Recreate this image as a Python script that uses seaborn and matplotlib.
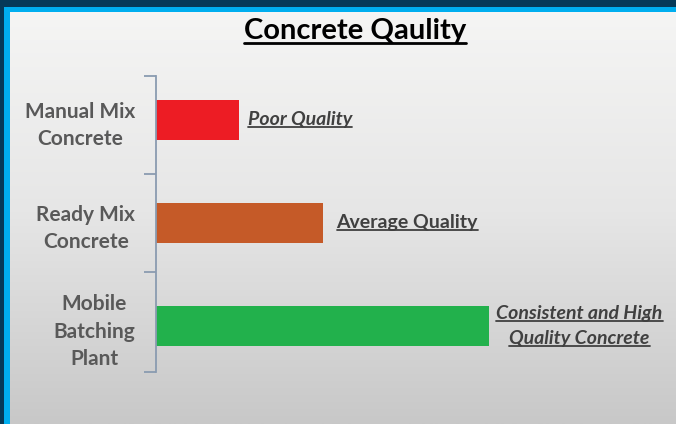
import numpy as np
import pandas as pd
import matplotlib.pyplot as plt
import seaborn as sns
from matplotlib.lines import Line2D
from matplotlib.patches import Rectangle
from matplotlib.colors import LinearSegmentedColormap

# Data
methods = ["Manual Mix\nConcrete", "Ready Mix\nConcrete", "Mobile\nBatching\nPlant"]
quality_score = [1, 2, 4]
quality_labels = ["Poor Quality", "Average Quality", "Consistent and High\nQuality Concrete"]
label_styles = ["italic", "normal", "italic"]
bar_colors = ["#ed1c24", "#c55a28", "#22b14c"]

df = pd.DataFrame({"method": methods, "score": quality_score})

sns.set_theme(style="white")
plt.rcParams["font.family"] = ["Lato", "DejaVu Sans"]

fig = plt.figure(figsize=(6.76, 4.24), dpi=100)
W, H = 676, 424

# background gradient
bg = fig.add_axes([0, 0, 1, 1], zorder=-10)
grad = np.linspace(0, 1, 256).reshape(-1, 1)
bg_cmap = LinearSegmentedColormap.from_list("bg", ["#f6f6f5", "#e6e6e6", "#c8c8c8"])
bg.imshow(grad, aspect="auto", cmap=bg_cmap, extent=[0, 1, 0, 1], origin="upper")
bg.axis("off")

# blue frame on top and left
fig.add_artist(Rectangle((0, 1 - 12 / H), 1, 12 / H, transform=fig.transFigure, color="#00aeef", lw=0))
fig.add_artist(Rectangle((0, 0), 10 / W, 1, transform=fig.transFigure, color="#00aeef", lw=0))
fig.add_artist(Rectangle((0, 1 - 7 / H), 1, 7 / H, transform=fig.transFigure, color="#063a58", lw=0))
fig.add_artist(Rectangle((0, 0), 4 / W, 1, transform=fig.transFigure, color="#063a58", lw=0))

# main axes
ax = fig.add_axes([156 / W, 52 / H, 500 / W, 296 / H])
ax.patch.set_alpha(0)

sns.barplot(data=df, y="method", x="score", hue="method", palette=bar_colors,
            width=0.39, saturation=1, legend=False, orient="h", linewidth=0, ax=ax)

ax.set_xlim(0, 6)
ax.set_ylim(2.447, -0.427)
ax.set_xlabel("")
ax.set_ylabel("")
ax.set_xticks([])

# category boundary ticks like the original
ax.set_yticks([-0.427, 0.524, 1.476, 2.447], minor=True)
ax.tick_params(axis="y", which="minor", left=True, length=9, width=1.3,
               color="#8a9bb0", direction="out")
ax.tick_params(axis="y", which="major", left=False, length=0, pad=15,
               labelsize=15, labelcolor="#595959")
for lbl in ax.get_yticklabels():
    lbl.set_fontweight("bold")
    lbl.set_multialignment("center")
    lbl.set_linespacing(1.45)

for side in ["top", "right", "bottom"]:
    ax.spines[side].set_visible(False)
ax.spines["left"].set_color("#8a9bb0")
ax.spines["left"].set_linewidth(1.3)

# labels next to bars
pads = [6, 10, 5]
bar_texts = []
for cont, lab, st, pad in zip(ax.containers, quality_labels, label_styles, pads):
    t = ax.bar_label(cont, labels=[lab], padding=pad, fontsize=14,
                     fontweight="bold", fontstyle=st, color="#404040")[0]
    t.set_multialignment("center")
    t.set_linespacing(1.55)
    bar_texts.append(t)

title = fig.text(355 / W, 1 - 31 / H, "Concrete Qaulity", ha="center", va="center",
                 fontsize=21, fontweight="bold", color="black")

fig.canvas.draw()
renderer = fig.canvas.get_renderer()


def underline(txt, color, lw, gap):
    bb = txt.get_window_extent(renderer)
    lines = txt.get_text().split("\n")
    n = len(lines)
    cx = (bb.x0 + bb.x1) / 2
    widths, heights = [], []
    for line in lines:
        tmp = fig.text(0, 0, line, fontproperties=txt.get_fontproperties())
        e = tmp.get_window_extent(renderer)
        widths.append(e.width)
        heights.append(e.height)
        tmp.remove()
    step = (bb.height - heights[-1]) / (n - 1) if n > 1 else 0
    for i, w in enumerate(widths):
        y = bb.y0 + (n - 1 - i) * step + gap
        fig.add_artist(Line2D([(cx - w / 2) / W, (cx + w / 2) / W], [y / H, y / H],
                              transform=fig.transFigure, color=color, lw=lw))


underline(title, "black", 2.0, 1)
for t in bar_texts:
    underline(t, "#404040", 1.3, 1)

plt.savefig("out.png", dpi=100)
